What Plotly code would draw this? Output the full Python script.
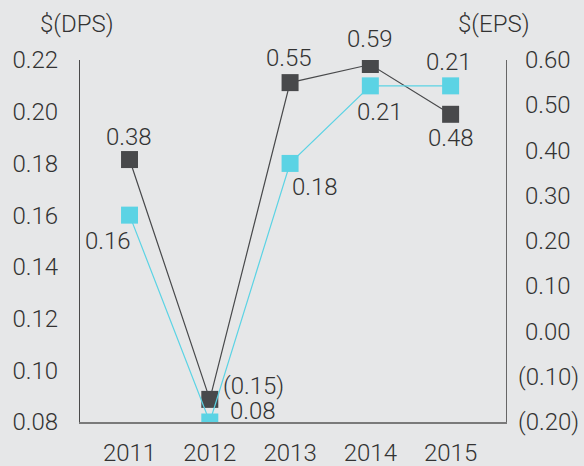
import plotly.graph_objects as go

years = ["2011", "2012", "2013", "2014", "2015"]
dps = [0.16, 0.08, 0.18, 0.21, 0.21]
eps = [0.38, -0.15, 0.55, 0.59, 0.48]
dps_labels = ["0.16", "0.08", "0.18", "0.21", "0.21"]
eps_labels = ["0.38", "(0.15)", "0.55", "0.59", "0.48"]
dps_ticks = [0.08, 0.10, 0.12, 0.14, 0.16, 0.18, 0.20, 0.22]
eps_ticks = [-0.20, -0.10, 0.0, 0.10, 0.20, 0.30, 0.40, 0.50, 0.60]
eps_ticktext = ["(0.20)", "(0.10)", "0.00", "0.10", "0.20", "0.30", "0.40", "0.50", "0.60"]

DARK = "#48494b"
CYAN = "#5bd3e4"
TXT = "#333333"
FONT = "Roboto"
FS = 24
WT = 300

def fnt():
    return dict(size=FS, color=TXT, family=FONT, weight=WT)

W, H = 584, 466
L, R, T, B = 80, 78, 60, 44
PW, PH = W - L - R, H - T - B

fig = go.Figure()
fig.add_trace(go.Scatter(
    x=list(range(len(years))), y=eps, yaxis="y", mode="lines+markers",
    line=dict(color=DARK, width=1.2),
    marker=dict(symbol="square", size=17, color=DARK),
    showlegend=False, hoverinfo="skip"))
fig.add_trace(go.Scatter(
    x=list(range(len(years))), y=dps, yaxis="y2", mode="lines+markers",
    line=dict(color=CYAN, width=1.2),
    marker=dict(symbol="square", size=17, color=CYAN),
    showlegend=False, hoverinfo="skip"))

# label offsets (pixels) for each point
eps_off = [(-1, 23), (44, 13), (-1, 25), (0, 26), (0, -24)]
dps_off = [(-22, -26), (43, 11), (25, -24), (10, -26), (-2, 24)]
annotations = []
for i, (lab, v) in enumerate(zip(eps_labels, eps)):
    dx, dy = eps_off[i]
    annotations.append(dict(x=i, y=v, xref="x", yref="y", text=lab, showarrow=False,
                            xanchor="center", yanchor="middle",
                            xshift=dx, yshift=dy, font=fnt()))
for i, (lab, v) in enumerate(zip(dps_labels, dps)):
    dx, dy = dps_off[i]
    annotations.append(dict(x=i, y=v, xref="x", yref="y2", text=lab, showarrow=False,
                            xanchor="center", yanchor="middle",
                            xshift=dx, yshift=dy, font=fnt()))
# right-axis tick labels, digits aligned (parentheses hang to the left)
for v, t in zip(eps_ticks, eps_ticktext):
    annotations.append(dict(x=1, y=v, xref="paper", yref="y", text=t, showarrow=False,
                            xanchor="left", yanchor="middle",
                            xshift=(10 if t.startswith("(") else 17), font=fnt()))
for txt, px, py in [("$(DPS)", 77, 24), ("$(EPS)", 493, 24)]:
    annotations.append(dict(x=(px - L) / PW, y=1 - (py - T) / PH, xref="paper", yref="paper",
                            text=txt, showarrow=False, xanchor="center", yanchor="middle",
                            font=fnt()))

fig.update_layout(
    width=W, height=H, autosize=False,
    margin=dict(l=L, r=R, t=T, b=B, pad=0, autoexpand=False),
    paper_bgcolor="#e6e7e8", plot_bgcolor="#e6e7e8",
    font=fnt(),
    xaxis=dict(tickvals=list(range(len(years))), ticktext=years, range=[-0.617, 4.69],
               showgrid=False, zeroline=False, showline=True, linecolor="#7a7a7a", linewidth=1.5,
               ticks="", tickfont=fnt(), automargin=False, ticklabelstandoff=8),
    yaxis=dict(side="right", range=[-0.20, 0.60], tickvals=eps_ticks, showticklabels=False,
               showgrid=False, zeroline=False, showline=True, linecolor="#666666", linewidth=1.2,
               ticks="", automargin=False),
    yaxis2=dict(side="left", overlaying="y", range=[0.08, 0.22], tickvals=dps_ticks,
                tickformat=".2f", showgrid=False, zeroline=False, showline=True,
                linecolor="#4a4a4a", linewidth=1.2, ticks="", ticklabelstandoff=16,
                tickfont=fnt(), automargin=False),
    annotations=annotations,
)
fig.write_html("out.html", config={"displayModeBar": False},
               post_script="document.body.style.margin='0';document.body.style.overflow='hidden';")
